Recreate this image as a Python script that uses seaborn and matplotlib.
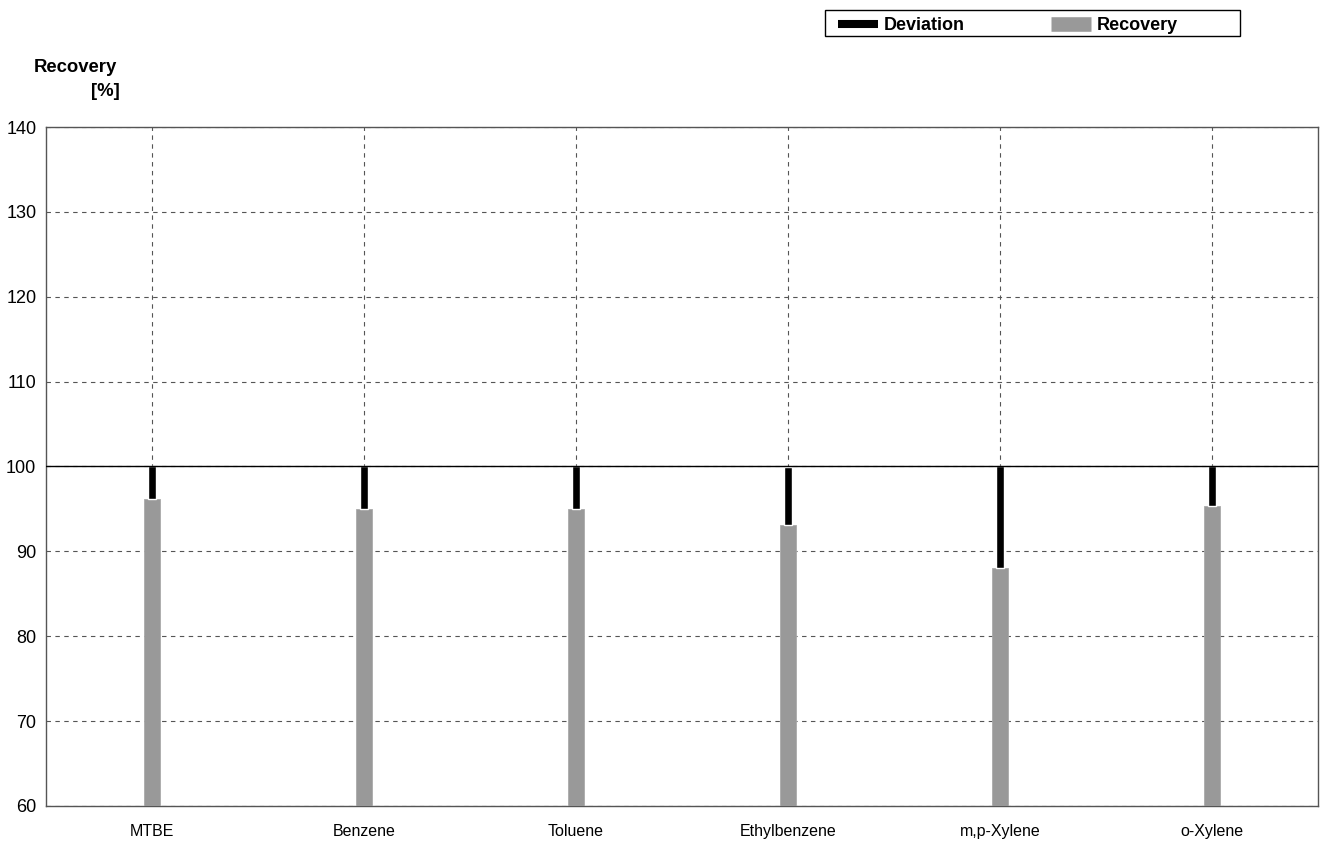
import numpy as np
import pandas as pd
import seaborn as sns
import matplotlib.pyplot as plt
from matplotlib.lines import Line2D
from matplotlib.patches import Rectangle

# valores
compostos = ['MTBE', 'Benzene', 'Toluene', 'Ethylbenzene', 'm,p-Xylene', 'o-Xylene']
recuperacao = [96.2, 95.05, 95.0, 93.1, 88.0, 95.4]
referencia = 100

df = pd.DataFrame({'composto': compostos, 'recovery': recuperacao})
df['desvio'] = referencia - df['recovery']

sns.set_theme(style='white')
plt.rcParams['font.family'] = ['Liberation Sans', 'DejaVu Sans']
plt.rcParams['text.color'] = 'black'

fig = plt.figure(figsize=(13.24, 8.42), dpi=100)
ax = fig.add_axes([46/1324, 1 - 806/842, 1272/1324, 679/842])

# barras de recuperação
sns.barplot(data=df, x='composto', y='recovery', color='#999999', width=0.075,
            saturation=1, edgecolor='#aaaaaa', linewidth=0.6, ax=ax, zorder=3)

# desvio até 100 %
pos = np.arange(len(compostos))
ax.bar(pos, df['desvio'], bottom=df['recovery'], width=0.036, color='black', zorder=4)

ax.set_xlim(-0.5, len(compostos) - 0.5)
ax.set_ylim(60, 140)
ax.set_yticks(range(60, 141, 10))
ax.set_xlabel('')
ax.set_ylabel('')

ax.grid(True, axis='both', linestyle=(0, (4, 4)), color='#555555', linewidth=0.8, zorder=0)
ax.axhline(referencia, color='black', linewidth=1.0, zorder=5)

for s in ax.spines.values():
    s.set_visible(True)
    s.set_color('#555555')
    s.set_linewidth(1.0)

ax.tick_params(axis='y', labelsize=13, length=0, pad=7, colors='black')
ax.tick_params(axis='x', labelsize=11.5, length=0, pad=13, colors='black')

fig.text(117/1324, 1 - 68/842, 'Recovery', fontsize=13.3, fontweight='bold', ha='right', va='center')
fig.text(120/1324, 1 - 91/842, '[%]', fontsize=13.3, fontweight='bold', ha='right', va='center')

# legenda
handles = [Line2D([], [], color='black', linewidth=5.8, solid_capstyle='butt'),
           Line2D([], [], color='#999999', linewidth=10.5, solid_capstyle='butt')]
leg = fig.legend(handles, ['Deviation', 'Recovery'], ncol=2,
                 bbox_to_anchor=(838/1324, 1 - 25.5/842), loc='center left',
                 borderaxespad=0, frameon=False, handlelength=2.2,
                 handletextpad=0.35, columnspacing=4.75, borderpad=0,
                 labelcolor='black', prop={'weight': 'bold', 'size': 13})
fig.patches.append(Rectangle((825/1324, 1 - 36/842), 415/1324, 26/842, transform=fig.transFigure,
                             fill=False, edgecolor='black', linewidth=1.0))

fig.savefig('out.png', dpi=100)
